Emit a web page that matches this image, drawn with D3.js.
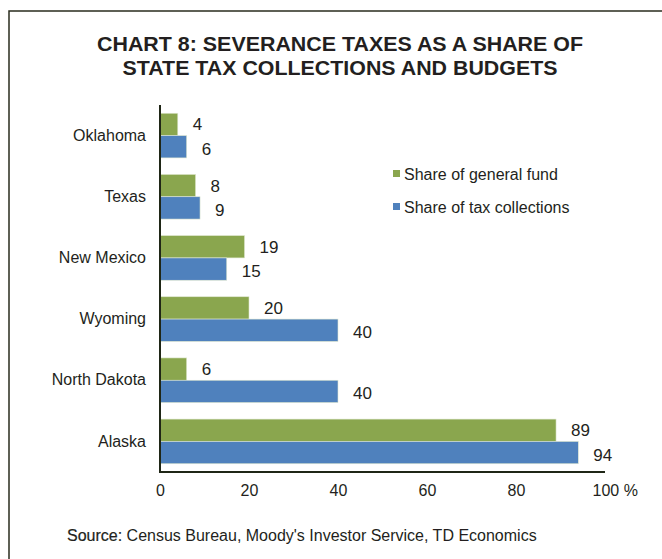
<!DOCTYPE html>
<html>
<head>
<meta charset="utf-8">
<script src="https://cdn.jsdelivr.net/npm/d3@7"></script>
<style>
  body { margin: 0; background: #fff; }
  text { font-family: "Liberation Sans", Arial, sans-serif; fill: #231f20; }
</style>
</head>
<body>
<div id="chart"></div>
<script>
// data
const states = ["Oklahoma", "Texas", "New Mexico", "Wyoming", "North Dakota", "Alaska"];
const generalFund = [4, 8, 19, 20, 6, 89];
const taxCollections = [6, 9, 15, 40, 40, 94];
const seriesNames = ["Share of general fund", "Share of tax collections"];
const seriesColors = ["#8aa64e", "#4f81bd"];
const xTicks = [0, 20, 40, 60, 80, 100];

const width = 662, height = 559;
const margin = {top: 105, right: 57, bottom: 87, left: 160};

const svg = d3.select("#chart")
  .append("svg")
  .attr("width", width)
  .attr("height", height);

// outer frame (only left and top show in the crop)
svg.append("path")
  .attr("d", `M9,${height} L9,11 L${width},11`)
  .attr("fill", "none")
  .attr("stroke", "#2a2d1e")
  .attr("stroke-width", 1.5);

// title
const title = svg.append("text")
  .attr("text-anchor", "middle")
  .attr("font-size", "19.5px")
  .attr("font-weight", "bold");
title.append("tspan").attr("x", 340).attr("y", 51)
  .attr("textLength", 486).attr("lengthAdjust", "spacingAndGlyphs")
  .text("CHART 8: SEVERANCE TAXES AS A SHARE OF");
title.append("tspan").attr("x", 340).attr("y", 75)
  .attr("textLength", 435).attr("lengthAdjust", "spacingAndGlyphs")
  .text("STATE TAX COLLECTIONS AND BUDGETS");

const xScale = d3.scaleLinear()
  .domain([0, 100])
  .range([margin.left, width - margin.right]);

const yScale = d3.scaleBand()
  .domain(states)
  .range([margin.top, height - margin.bottom])
  .paddingInner(0.27)
  .paddingOuter(0.135);

const ySub = d3.scaleBand()
  .domain([0, 1])
  .range([0, yScale.bandwidth()]);

const rows = states.map((s, i) => ({state: s, values: [generalFund[i], taxCollections[i]]}));

const groups = svg.append("g")
  .selectAll("g")
  .data(rows)
  .join("g")
  .attr("transform", d => `translate(0,${yScale(d.state)})`);

groups.selectAll("rect")
  .data(d => d.values.map((v, k) => ({v, k})))
  .join("rect")
  .attr("x", xScale(0))
  .attr("y", d => ySub(d.k))
  .attr("width", d => xScale(d.v) - xScale(0))
  .attr("height", ySub.bandwidth())
  .attr("fill", d => seriesColors[d.k])
  .attr("stroke", "#dfe8d0")
  .attr("stroke-width", 0.6);

groups.selectAll("text.val")
  .data(d => d.values.map((v, k) => ({v, k})))
  .join("text")
  .attr("class", "val")
  .attr("x", d => xScale(d.v) + 15)
  .attr("y", d => ySub(d.k) + ySub.bandwidth() / 2 + (d.k === 0 ? 0 : 2))
  .attr("dy", "0.35em")
  .attr("font-size", "17px")
  .text(d => d.v);

// y axis labels
const yAxis = d3.axisLeft(yScale).tickSize(0).tickPadding(14);
const gy = svg.append("g")
  .attr("transform", `translate(${margin.left},0)`)
  .call(yAxis);
gy.select(".domain").remove();
gy.selectAll("text").attr("font-size", "16px").attr("fill", "#231f20")
  .attr("font-family", "Liberation Sans, Arial, sans-serif");

// x axis labels
const xAxis = d3.axisBottom(xScale).tickValues(xTicks).tickSize(0).tickPadding(13)
  .tickFormat(d => d === 100 ? "100 %" : d);
const gx = svg.append("g")
  .attr("transform", `translate(0,${height - margin.bottom})`)
  .call(xAxis);
gx.select(".domain").remove();
gx.selectAll("text").attr("font-size", "16px").attr("fill", "#231f20")
  .attr("font-family", "Liberation Sans, Arial, sans-serif")
  .filter(d => d === 100)
  .attr("text-anchor", "start")
  .attr("dx", "-13");

// axis lines
svg.append("line")
  .attr("x1", xScale(0)).attr("x2", xScale(0))
  .attr("y1", margin.top).attr("y2", height - margin.bottom)
  .attr("stroke", "#1f2616").attr("stroke-width", 2);
svg.append("line")
  .attr("x1", xScale(0) - 1).attr("x2", xScale(100))
  .attr("y1", height - margin.bottom).attr("y2", height - margin.bottom)
  .attr("stroke", "#1f2616").attr("stroke-width", 2);

// legend
const legend = svg.append("g").attr("transform", "translate(393,174)");
seriesNames.forEach((name, i) => {
  legend.append("rect")
    .attr("x", 0).attr("y", i * 33 - 4)
    .attr("width", 7).attr("height", 7)
    .attr("fill", seriesColors[i]);
  legend.append("text")
    .attr("x", 11).attr("y", i * 33)
    .attr("dy", "0.35em")
    .attr("font-size", "16px")
    .text(name);
});

// source
const src = svg.append("text")
  .attr("x", 67).attr("y", 541)
  .attr("font-size", "16px");
src.append("tspan").attr("stroke", "#231f20").attr("stroke-width", 0.2).text("Source:");
src.append("tspan").text(" Census Bureau, Moody's Investor Service, TD Economics");
</script>
</body>
</html>
